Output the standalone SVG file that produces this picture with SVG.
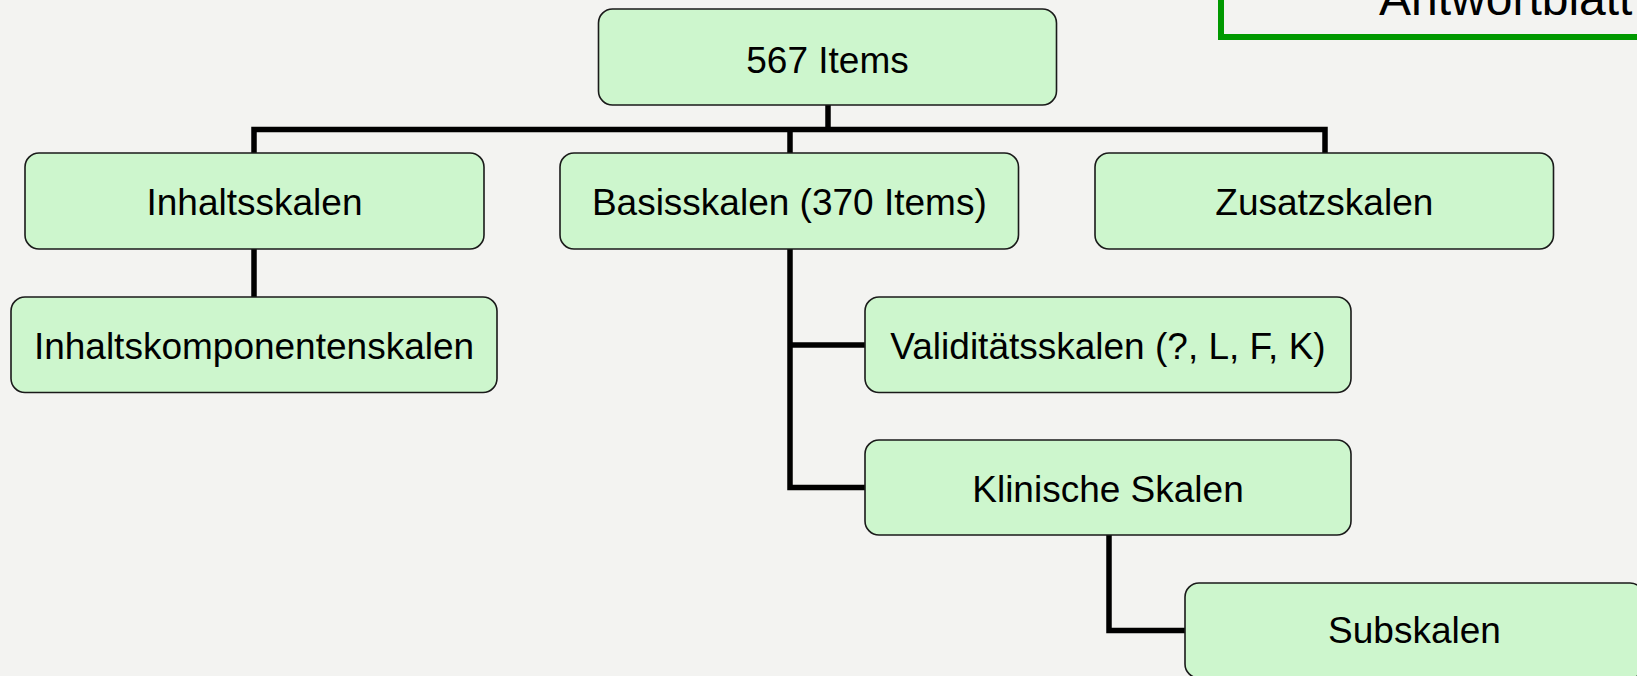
<svg xmlns="http://www.w3.org/2000/svg" width="1637" height="676" viewBox="0 0 1637 676">
<style>
.bg{fill:#f3f3f1}
.box{fill:#cdf6cd;stroke:#1a1a1a;stroke-width:1.6}
.lbl{font-family:"Liberation Sans",Arial,sans-serif;font-size:37px;fill:#000;text-anchor:middle}
.conn{fill:none;stroke:#000;stroke-width:5.5;stroke-linejoin:miter;stroke-linecap:butt}
.note{fill:none;stroke:#009900;stroke-width:6}
.notetxt{font-family:"Liberation Sans",Arial,sans-serif;font-size:48px;fill:#000}
</style>
<rect class="bg" x="0" y="0" width="1637" height="676"/>
<g id="connectors">
<line class="conn" x1="828" y1="105" x2="828" y2="129.5"/>
<polyline class="conn" points="254,153 254,129.5 1325,129.5 1325,153"/>
<polyline class="conn" points="790,129.5 790,487.5 865,487.5"/>
<line class="conn" x1="790" y1="345" x2="865" y2="345"/>
<line class="conn" x1="254" y1="249" x2="254" y2="297"/>
<polyline class="conn" points="1109,535 1109,630.5 1185,630.5"/>
</g>
<g id="antwortblatt">
<rect class="note" x="1221" y="-30" width="460" height="67"/>
<text class="notetxt" x="1379" y="15">Antwortblatt</text>
</g>
<g id="n567">
<rect class="box" x="598.5" y="9" width="458" height="96" rx="14"/>
<text class="lbl" x="827.5" y="73">567 Items</text>
</g>
<g id="inhaltsskalen">
<rect class="box" x="25" y="153" width="459" height="96" rx="14"/>
<text class="lbl" x="254.5" y="215">Inhaltsskalen</text>
</g>
<g id="basisskalen">
<rect class="box" x="560" y="153" width="458.5" height="96" rx="14"/>
<text class="lbl" x="789.3" y="215">Basisskalen (370 Items)</text>
</g>
<g id="zusatzskalen">
<rect class="box" x="1095" y="153" width="458.5" height="96" rx="14"/>
<text class="lbl" x="1324.3" y="215">Zusatzskalen</text>
</g>
<g id="inhaltskomponentenskalen">
<rect class="box" x="11" y="297" width="486" height="95.5" rx="14"/>
<text class="lbl" x="254" y="359">Inhaltskomponentenskalen</text>
</g>
<g id="validitaetsskalen">
<rect class="box" x="865" y="297" width="486" height="95.5" rx="14"/>
<text class="lbl" x="1108" y="359">Validitätsskalen (?, L, F, K)</text>
</g>
<g id="klinische">
<rect class="box" x="865" y="440" width="486" height="95" rx="14"/>
<text class="lbl" x="1108" y="501.5">Klinische Skalen</text>
</g>
<g id="subskalen">
<rect class="box" x="1185" y="583" width="459" height="95" rx="14"/>
<text class="lbl" x="1414.5" y="643">Subskalen</text>
</g>
</svg>
